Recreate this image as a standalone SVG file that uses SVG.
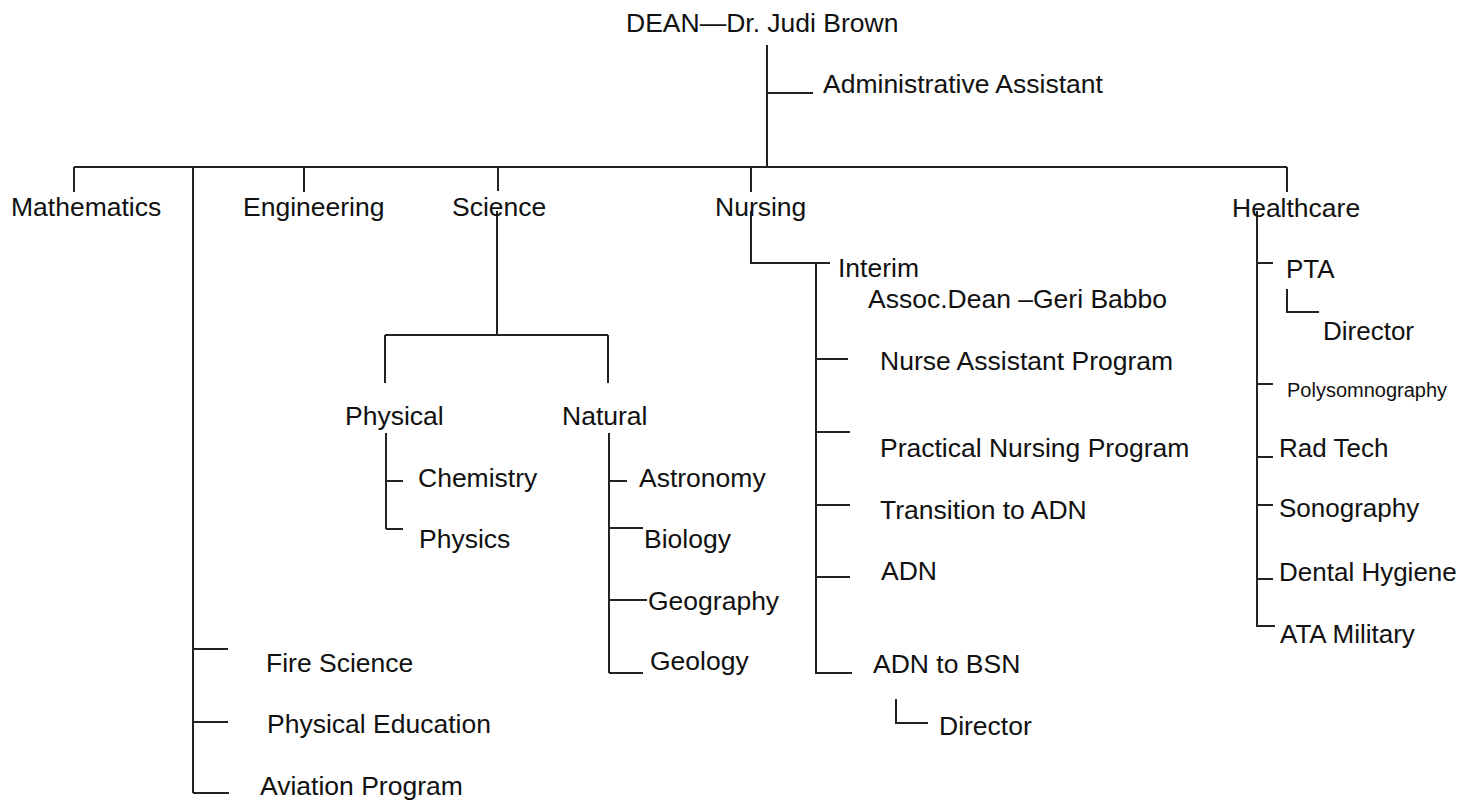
<svg xmlns="http://www.w3.org/2000/svg" width="1460" height="801" viewBox="0 0 1460 801">
<style>
text{font-family:"Liberation Sans",Arial,sans-serif;font-size:26.5px;fill:#111}
text.hc{font-size:26px}
text.sm{font-size:20px}
#connectors path{fill:none;stroke:#222;stroke-width:2}
</style>
<rect width="1460" height="801" fill="#fff"/>
<g id="connectors">
<path d="M767 45V167M767 93H813"/>
<path d="M74 167H1287M74 167V192M304 167V192M498 167V191M751 167V192M1287 167V192"/>
<path d="M193 167V793M193 649H228M193 722H228M193 793H229"/>
<path d="M497 211V335M385 335H608M385 335V383M608 335V383"/>
<path d="M386 433V529M386 481H403M386 529H403"/>
<path d="M609 433V673M609 481H627M609 528H643M609 600H647M609 673H643"/>
<path d="M751 211V263H830M816 263V674M816 359H848M816 432H850M816 505H850M816 577H850M816 673H852"/>
<path d="M896 699V723H928"/>
<path d="M1257 211V627M1257 263H1273M1257 384H1273M1257 457H1273M1257 505H1273M1257 579H1273M1257 626H1275"/>
<path d="M1287 289V312H1319"/>
</g>
<g id="dean"><text x="626" y="32">DEAN—Dr. Judi Brown</text></g>
<g id="admin"><text x="823" y="93">Administrative Assistant</text></g>
<g id="mathematics"><text x="11" y="216">Mathematics</text></g>
<g id="engineering"><text x="243" y="216">Engineering</text></g>
<g id="science"><text x="452" y="216">Science</text></g>
<g id="nursing"><text x="715" y="216">Nursing</text></g>
<g id="healthcare"><text x="1232" y="217">Healthcare</text></g>
<g id="fire-science"><text x="266" y="672">Fire Science</text></g>
<g id="physical-education"><text x="267" y="733">Physical Education</text></g>
<g id="aviation"><text x="260" y="795">Aviation Program</text></g>
<g id="physical"><text x="345" y="425">Physical</text></g>
<g id="natural"><text x="562" y="425">Natural</text></g>
<g id="chemistry"><text x="418" y="487">Chemistry</text></g>
<g id="physics"><text x="419" y="548">Physics</text></g>
<g id="astronomy"><text x="639" y="487">Astronomy</text></g>
<g id="biology"><text x="644" y="548">Biology</text></g>
<g id="geography"><text x="648" y="610">Geography</text></g>
<g id="geology"><text x="650" y="670">Geology</text></g>
<g id="interim"><text x="838" y="277">Interim</text><text x="868" y="308">Assoc.Dean –Geri Babbo</text></g>
<g id="nurse-assistant"><text x="880" y="370">Nurse Assistant Program</text></g>
<g id="practical-nursing"><text x="880" y="457">Practical Nursing Program</text></g>
<g id="transition-adn"><text x="880" y="519">Transition to ADN</text></g>
<g id="adn"><text x="881" y="580">ADN</text></g>
<g id="adn-bsn"><text x="873" y="673">ADN to BSN</text></g>
<g id="nursing-director"><text x="939" y="735">Director</text></g>
<g id="pta"><text class="hc" x="1286" y="278">PTA</text></g>
<g id="pta-director"><text class="hc" x="1323" y="340">Director</text></g>
<g id="polysomnography"><text class="sm" x="1287" y="397">Polysomnography</text></g>
<g id="rad-tech"><text class="hc" x="1279" y="457">Rad Tech</text></g>
<g id="sonography"><text class="hc" x="1279" y="517">Sonography</text></g>
<g id="dental-hygiene"><text class="hc" x="1279" y="581">Dental Hygiene</text></g>
<g id="ata-military"><text class="hc" x="1280" y="643">ATA Military</text></g>
</svg>
